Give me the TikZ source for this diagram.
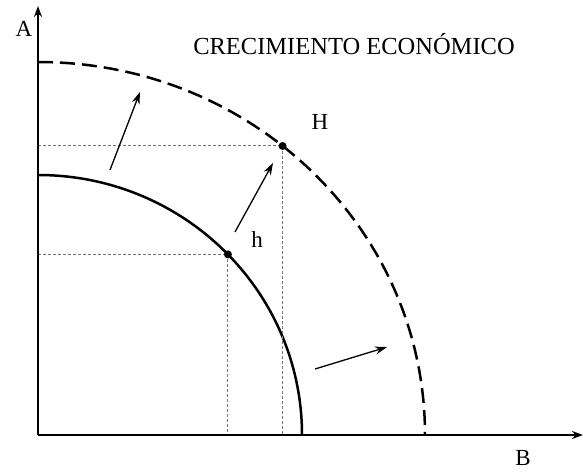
\documentclass[tikz,border=0pt]{standalone}
\usepackage{fontspec}
\setmainfont{Liberation Serif}
\usetikzlibrary{arrows.meta}
\begin{document}
\begin{tikzpicture}[x=1pt,y=1pt,
  axis/.style={line width=1.5pt,-{Stealth[length=11pt,width=8pt]}},
  ppf/.style={line width=2.5pt},
  ppfnew/.style={line width=2.5pt,dash pattern=on 15pt off 7pt},
  guide/.style={line width=1pt,black!55,dash pattern=on 3pt off 2pt},
  movearrow/.style={line width=1.3pt,-{Stealth[length=12pt,width=8pt]}},
  dot/.style={circle,fill=black,inner sep=0pt,minimum size=8pt},
  lbl/.style={font=\fontsize{23}{25}\selectfont}]
\useasboundingbox (0,0) rectangle (583,472);
\coordinate (O) at (38,37);
\coordinate (ytop) at (38,466);
\coordinate (xend) at (583,37);
\coordinate (a0) at (38,297);
\coordinate (b0) at (38,410);
% curves
\draw[ppf] (a0) arc[start angle=90,end angle=0,x radius=264,y radius=260];
\draw[ppfnew] (b0) arc[start angle=90,end angle=0,x radius=387,y radius=373];
% points
\coordinate (h) at ({38+264*cos(44)},{37+260*sin(44)});
\coordinate (H) at ({38+387*cos(50.8)},{37+373*sin(50.8)});
\coordinate (hy) at (O |- h);
\coordinate (hx) at (h |- O);
\coordinate (Hy) at (O |- H);
\coordinate (Hx) at (H |- O);
\draw[guide] (hy) -- (h) -- (hx);
\draw[guide] (Hy) -- (H) -- (Hx);
% axes
\draw[axis] (O) -- (ytop);
\draw[axis] (O) -- (xend);
\node[dot] (hdot) at (h) {};
\node[dot] (Hdot) at (H) {};
% shift arrows
\coordinate (s1) at (110,302);
\coordinate (e1) at (140,380);
\coordinate (s2) at (235,240);
\coordinate (e2) at (273,309);
\coordinate (s3) at (315,103);
\coordinate (e3) at (387,125);
\draw[movearrow] (s1) -- (e1);
\draw[movearrow] (s2) -- (e2);
\draw[movearrow] (s3) -- (e3);
% labels
\node[lbl] (lA) at (24,443) {A};
\node[lbl] (lB) at (523,14) {B};
\node[lbl] (lH) at (320,350) {H};
\node[lbl] (lh) at (257,232) {h};
\node[font=\fontsize{24.5}{27}\selectfont] (title) at (354,428) {CRECIMIENTO ECONÓMICO};
\end{tikzpicture}
\end{document}
